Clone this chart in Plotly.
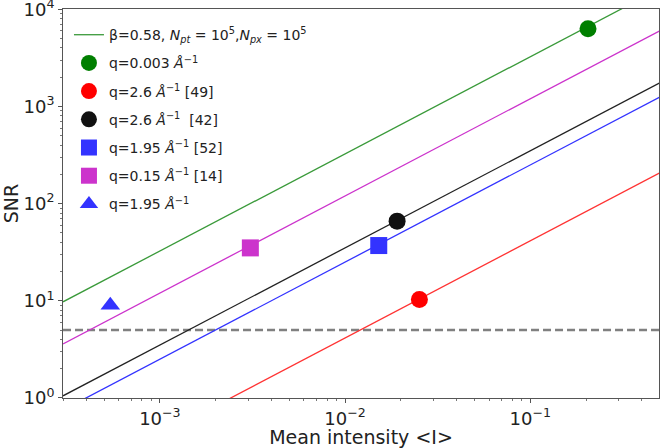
import plotly.graph_objects as go

# ---- data ----
line_x = [3e-4, 0.5]
line_green = [9.75, 16250]
line_magenta = [3.6, 6000]
line_black = [1.05, 1750]
line_blue = [0.75, 1250]
line_red = [0.124, 207]
threshold_x = [3e-4, 0.5]
threshold_y = [5, 5]

pt_green_x, pt_green_y = [0.205], [6300]
pt_red_x, pt_red_y = [0.0252], [10.3]
pt_black_x, pt_black_y = [0.0191], [66]
pt_blue_sq_x, pt_blue_sq_y = [0.0152], [37]
pt_mag_sq_x, pt_mag_sq_y = [0.00308], [35]
pt_tri_x, pt_tri_y = [0.00054], [9.0]

x_tickvals = [1e-3, 1e-2, 1e-1]
x_ticktext = ["10<sup>−3</sup>", "10<sup>−2</sup>", "10<sup>−1</sup>"]
y_tickvals = [1, 10, 100, 1000, 10000]
y_ticktext = ["10<sup>0</sup>", "10<sup>1</sup>", "10<sup>2</sup>", "10<sup>3</sup>", "10<sup>4</sup>"]

leg_line = "β=0.58, <i>N<sub>pt</sub></i> = 10<sup>5</sup>,<i>N<sub>px</sub></i> = 10<sup>5</sup>"
leg_names = [
    "q=0.003 <i>Å</i><sup>−1</sup>",
    "q=2.6 <i>Å</i><sup>−1</sup> [49]",
    "q=2.6 <i>Å</i><sup>−1</sup>  [42]",
    "q=1.95 <i>Å</i><sup>−1</sup> [52]",
    "q=0.15 <i>Å</i><sup>−1</sup> [14]",
    "q=1.95 <i>Å</i><sup>−1</sup>",
]

fig = go.Figure()

# threshold
fig.add_trace(go.Scatter(x=threshold_x, y=threshold_y, mode="lines",
                         line=dict(color="#808080", width=2.5, dash="8px,4px"),
                         showlegend=False, hoverinfo="skip"))
# lines
fig.add_trace(go.Scatter(x=line_x, y=line_green, mode="lines", name=leg_line,
                         line=dict(color="#3a9a3a", width=1.3), legendgroup="a"))
for ys, col in [(line_magenta, "#cc33cc"), (line_black, "#222222"),
                (line_blue, "#3333ff"), (line_red, "#ff3333")]:
    fig.add_trace(go.Scatter(x=line_x, y=ys, mode="lines",
                             line=dict(color=col, width=1.3), showlegend=False))

pts = [
    (pt_green_x, pt_green_y, "circle", "#007f00"),
    (pt_red_x, pt_red_y, "circle", "#ff0000"),
    (pt_black_x, pt_black_y, "circle", "#111111"),
    (pt_blue_sq_x, pt_blue_sq_y, "square", "#3333ff"),
    (pt_mag_sq_x, pt_mag_sq_y, "square", "#cc33cc"),
    (pt_tri_x, pt_tri_y, "triangle-up", "#3333ff"),
]
for i, ((xs, ys, sym, col), nm) in enumerate(zip(pts, leg_names)):
    fig.add_trace(go.Scatter(x=xs, y=ys, mode="markers", name=nm,
                             marker=dict(symbol=sym, color=col, size=17, line=dict(width=0)),
                             legendgroup="g%d" % i))

axis_common = dict(type="log", showgrid=False, zeroline=False, showline=True,
                   linecolor="#555555", linewidth=1, mirror=True, automargin=False,
                   ticks="outside", ticklen=4, tickcolor="#555555",
                   ticklabeloverflow="allow",
                   tickfont=dict(family="DejaVu Sans", size=18, color="#222222"))

minor_x = []
for e in [-4, -3, -2, -1]:
    for m in range(2, 10):
        minor_x.append(m * 10 ** e)
minor_y = []
for e in [0, 1, 2, 3]:
    for m in range(2, 10):
        minor_y.append(m * 10 ** e)

fig.update_xaxes(**axis_common, range=[-3.523, -0.305],
                 tickvals=x_tickvals, ticktext=x_ticktext, ticklabelstandoff=0,
                 minor=dict(tickvals=minor_x, ticks="outside", ticklen=2, tickcolor="#777777"),
                 title=dict(text="Mean intensity &lt;I&gt;", font=dict(family="DejaVu Sans", size=19, color="#222222"), standoff=0))
fig.update_yaxes(**axis_common, range=[-0.001, 4.003],
                 tickvals=y_tickvals, ticktext=y_ticktext,
                 minor=dict(tickvals=minor_y, ticks="outside", ticklen=2, tickcolor="#777777"),
                 title=dict(text="SNR", font=dict(family="DejaVu Sans", size=19, color="#222222"), standoff=0))

fig.update_layout(
    width=662, height=448,
    margin=dict(l=63, r=3, t=9, b=50),
    plot_bgcolor="white", paper_bgcolor="white",
    showlegend=True,
    legend=dict(x=0.01, y=0.974, xanchor="left", yanchor="top",
                bgcolor="rgba(0,0,0,0)", borderwidth=0,
                font=dict(family="DejaVu Sans", size=14, color="#222222"),
                tracegroupgap=7, itemwidth=30),
)

fig.write_html("out.html", config={"displayModeBar": False},
               post_script="document.body.style.margin='0';")
